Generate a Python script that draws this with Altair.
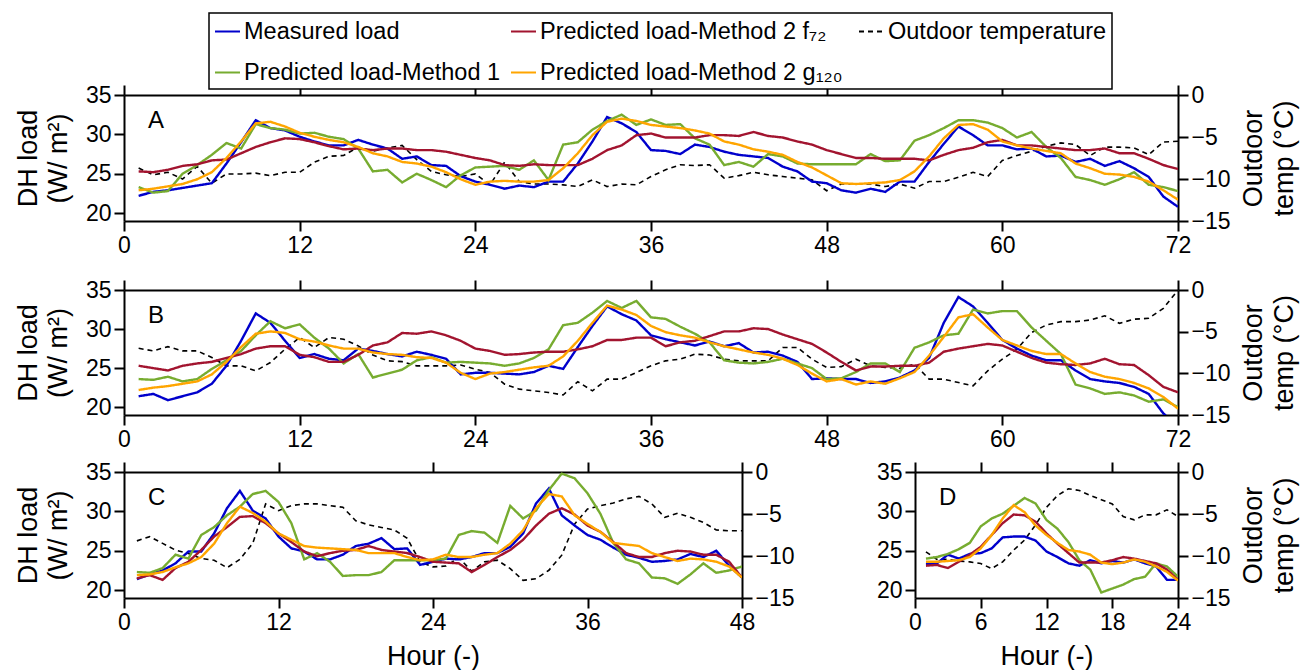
import altair as alt
import pandas as pd

FONT = "Liberation Sans"

SERIES = ["Measured load", "Predicted load-Method 2  f₇₂", "Outdoor temperature",
          "Predicted load-Method 1", "Predicted load-Method 2  g₁₂₀"]
COLORS = ["#0000CC", "#A2142F", "#000000", "#77AC30", "#FFA500"]
DASHES = [[1, 0], [1, 0], [5, 4], [1, 0], [1, 0]]

# ---------------- Panel A (72 h) ----------------
A_measured = [22.2, 22.7, 22.9, 23.2, 23.5, 23.8, 26.3, 29.0, 31.8, 30.8,
              30.5, 29.7, 29.1, 28.6, 28.6, 29.3, 28.7, 28.2, 26.9, 27.2,
              26.1, 26.0, 24.7, 24.0, 23.6, 23.1, 23.5, 23.3, 24.0, 24.0,
              26.3, 29.1, 32.2, 31.4, 30.3, 28.0, 27.9, 27.5, 28.7, 28.4,
              27.8, 27.4, 27.2, 27.0, 25.9, 25.3, 24.0, 23.8, 22.9, 22.6,
              23.1, 22.7, 24.0, 24.0, 26.5, 28.8, 31.0, 29.9, 28.6, 28.6,
              28.1, 28.2, 27.2, 27.3, 26.5, 26.9, 26.0, 26.6, 25.7, 24.6,
              22.1, 20.8]
A_method1 = [23.3, 22.6, 22.8, 25.0, 26.1, 27.4, 28.9, 28.2, 31.3, 30.8,
             30.6, 30.1, 30.2, 29.7, 29.4, 28.2, 25.3, 25.5, 23.9, 25.0,
             24.2, 23.3, 24.8, 25.8, 25.9, 26.0, 25.5, 26.7, 24.2, 28.7,
             29.0, 30.6, 31.7, 32.5, 31.2, 31.9, 31.2, 31.3, 29.5, 28.7,
             26.1, 26.5, 25.9, 27.5, 27.2, 26.3, 26.2, 26.2, 26.2, 26.2,
             27.5, 26.6, 26.7, 29.2, 29.9, 30.8, 31.8, 31.8, 31.5, 30.8,
             29.6, 30.3, 28.4, 27.0, 24.6, 24.2, 23.6, 24.3, 25.2, 23.6,
             23.3, 22.8]
A_f72 = [25.3, 25.2, 25.5, 26.0, 26.2, 26.7, 26.8, 27.6, 28.4, 29.0,
         29.5, 29.4, 29.0, 28.5, 28.1, 28.2, 28.0, 28.2, 28.2, 28.0,
         28.0, 27.8, 27.4, 27.0, 26.7, 26.1, 26.0, 26.2, 26.1, 26.1,
         26.1, 26.9, 28.0, 28.6, 29.9, 30.1, 29.6, 29.6, 29.6, 29.9,
         29.9, 29.8, 30.3, 29.8, 29.6, 29.1, 28.7, 28.0, 27.5, 27.0,
         27.0, 26.9, 26.9, 26.9, 26.7, 27.4, 28.0, 28.3, 29.0, 29.3,
         28.6, 28.6, 28.4, 28.2, 28.0, 28.0, 28.2, 27.6, 27.6, 26.9,
         26.1, 25.6]
A_g120 = [22.9, 23.1, 23.4, 23.7, 24.3, 25.2, 27.0, 29.1, 31.4, 31.6,
          31.0, 30.2, 29.7, 29.3, 29.0, 28.4, 27.6, 27.2, 26.5, 26.3,
          25.9, 25.2, 24.3, 23.6, 24.0, 24.1, 24.0, 24.0, 24.2, 25.7,
          27.6, 29.9, 31.6, 32.0, 31.7, 31.2, 31.0, 30.8, 30.5, 30.1,
          29.1, 28.7, 28.1, 27.8, 27.4, 26.5, 25.8, 24.8, 23.8, 23.7,
          23.8, 23.9, 24.2, 25.3, 27.2, 29.5, 31.2, 31.3, 30.6, 29.1,
          28.6, 28.2, 27.9, 27.6, 26.3, 25.7, 25.0, 24.9, 24.6, 24.0,
          22.9, 21.7]
A_temp = [-8.7, -9.5, -9.2, -10.0, -8.5, -10.5, -9.4, -9.4, -9.3, -9.6,
          -9.2, -9.2, -8.0, -7.3, -7.2, -6.2, -6.7, -6.3, -6.0, -7.7,
          -9.1, -9.5, -9.7, -9.4, -10.7, -8.0, -10.3, -10.6, -10.6, -10.7,
          -10.9, -10.1, -10.9, -10.6, -10.7, -9.7, -8.9, -8.3, -8.4, -8.3,
          -9.9, -9.6, -9.2, -9.5, -9.7, -9.9, -10.1, -11.4, -10.6, -10.6,
          -10.6, -10.9, -10.6, -11.1, -10.3, -10.3, -9.8, -9.2, -9.7, -7.8,
          -7.2, -6.7, -6.1, -5.7, -5.9, -7.2, -6.2, -6.2, -6.3, -7.1,
          -5.6, -5.5]

# ---------------- Panel B (72 h) ----------------
B_measured = [21.4, 21.7, 20.9, 21.4, 21.9, 23.0, 25.3, 28.5, 32.0, 30.8,
              28.5, 26.3, 26.8, 26.2, 26.0, 27.5, 27.2, 26.8, 26.5, 27.1,
              26.7, 26.2, 24.2, 24.4, 24.4, 24.3, 24.2, 24.5, 25.3, 24.9,
              27.7, 30.4, 32.9, 31.9, 31.1, 29.2, 28.7, 28.3, 27.9, 28.4,
              27.8, 28.2, 27.0, 27.1, 26.6, 25.8, 23.6, 23.7, 23.6, 23.6,
              23.1, 23.3, 23.8, 24.7, 26.3, 30.8, 34.1, 32.9, 30.8, 28.6,
              27.5, 26.6, 26.0, 26.0, 24.7, 23.6, 23.3, 23.1, 22.6, 21.7,
              19.2, 17.5]
B_method1 = [23.6, 23.5, 23.9, 23.3, 23.6, 24.9, 26.0, 27.2, 29.2, 31.0,
             30.1, 30.6, 28.9, 27.5, 25.6, 26.8, 23.8, 24.3, 24.8, 26.0,
             26.4, 25.7, 25.8, 25.7, 25.6, 25.3, 25.6, 26.3, 27.4, 30.5,
             30.8, 32.1, 33.6, 32.7, 33.6, 31.5, 31.3, 30.3, 29.4, 28.3,
             26.0, 25.7, 25.6, 25.8, 26.2, 25.6, 25.0, 23.6, 23.7, 24.5,
             25.6, 25.6, 24.5, 27.6, 28.3, 29.2, 29.4, 32.5, 32.0, 32.3,
             32.3, 30.2, 28.5, 26.8, 22.9, 22.4, 21.7, 21.9, 21.5, 20.7,
             21.0, 20.0]
B_f72 = [25.3, 25.0, 24.7, 25.3, 25.6, 25.8, 26.3, 26.8, 27.5, 27.8,
         27.8, 26.7, 26.4, 25.8, 25.8, 26.7, 27.9, 28.3, 29.5, 29.4,
         29.7, 29.2, 28.5, 27.5, 27.2, 26.7, 26.8, 27.0, 27.1, 27.1,
         27.4, 27.8, 28.6, 28.6, 28.9, 28.9, 27.8, 28.3, 28.5, 29.1,
         29.7, 29.7, 30.1, 30.0, 29.3, 28.7, 28.1, 27.0, 25.8, 24.7,
         25.2, 25.2, 25.3, 25.3, 25.7, 27.1, 27.5, 27.8, 28.1, 27.9,
         27.1, 26.3, 25.7, 25.5, 25.4, 25.6, 26.2, 25.5, 25.4, 24.1,
         22.6, 21.9]
B_g120 = [22.2, 22.5, 22.7, 23.0, 23.3, 24.2, 25.8, 27.7, 29.4, 29.7,
          29.5, 28.7, 28.4, 27.9, 27.5, 27.5, 27.0, 26.8, 26.7, 26.4,
          26.3, 25.7, 24.4, 23.6, 24.3, 24.5, 24.8, 25.1, 25.3, 26.5,
          28.5, 30.8, 33.0, 32.5, 31.8, 30.4, 29.6, 29.2, 28.9, 28.3,
          27.8, 27.4, 27.0, 26.7, 26.2, 25.4, 24.3, 23.3, 23.6, 22.9,
          23.3, 23.0, 23.7, 24.5, 26.6, 29.0, 31.5, 31.9, 30.2, 28.6,
          27.9, 27.2, 26.8, 26.8, 25.6, 24.5, 23.9, 23.6, 23.1, 22.4,
          21.3, 19.8]
B_temp = [-7.0, -7.3, -6.8, -7.3, -7.3, -8.1, -9.1, -9.1, -9.7, -8.7,
          -7.1, -5.7, -6.9, -5.7, -5.9, -6.7, -7.8, -8.5, -8.6, -9.1,
          -9.1, -9.1, -9.0, -9.5, -9.9, -11.3, -11.9, -12.1, -12.3, -12.6,
          -11.0, -12.1, -10.7, -10.7, -9.9, -9.1, -8.5, -8.3, -7.7, -7.8,
          -8.3, -8.5, -8.5, -8.5, -6.9, -6.9, -8.3, -9.3, -9.2, -8.3,
          -9.1, -9.3, -9.4, -8.9, -10.7, -10.7, -11.1, -11.5, -9.7, -8.3,
          -7.1, -5.1, -4.2, -3.8, -3.8, -3.6, -3.1, -4.0, -3.5, -3.4,
          -2.2, 0.0]

# ---------------- Panel C (48 h) ----------------
C_measured = [21.4, 22.0, 22.5, 23.4, 24.9, 24.9, 27.2, 30.4, 32.6, 30.1,
              29.1, 26.8, 25.3, 24.9, 23.9, 23.9, 24.5, 25.6, 25.9, 26.6,
              25.2, 25.3, 23.2, 23.6, 24.0, 23.9, 24.2, 24.7, 24.7, 25.5,
              27.2, 31.0, 32.9, 29.5, 28.2, 27.0, 26.4, 25.4, 24.5, 24.1,
              23.6, 23.7, 23.9, 24.6, 24.2, 25.0, 23.1, 21.6]
C_method1 = [22.3, 22.2, 22.8, 24.5, 24.0, 27.0, 28.0, 29.5, 30.6, 32.2,
             32.6, 31.2, 28.5, 23.9, 24.7, 23.6, 21.8, 21.9, 21.9, 22.3,
             23.8, 23.8, 23.8, 23.8, 24.0, 27.0, 27.5, 27.3, 26.0, 30.7,
             29.1, 30.1, 32.7, 34.8, 34.2, 32.3, 29.7, 26.0, 23.9, 23.4,
             21.6, 21.5, 20.8, 22.0, 23.4, 22.2, 22.5, 23.0]
C_f72 = [21.5, 21.9, 21.3, 22.8, 23.6, 25.1, 26.8, 28.0, 29.3, 29.4,
         28.5, 27.2, 26.1, 24.9, 24.3, 24.7, 25.0, 25.1, 25.6, 25.1,
         24.9, 24.7, 24.2, 23.6, 23.5, 23.4, 22.3, 23.2, 24.2, 25.1,
         26.4, 28.2, 29.7, 30.4, 29.6, 28.2, 27.4, 26.1, 24.7, 24.2,
         24.2, 24.7, 25.0, 24.9, 24.5, 24.5, 23.6, 21.6]
C_g120 = [21.9, 22.0, 22.3, 22.9, 23.4, 24.2, 25.9, 28.5, 30.6, 29.8,
          28.7, 27.2, 26.4, 25.6, 25.4, 25.3, 25.2, 25.1, 24.7, 24.7,
          24.7, 24.2, 23.8, 23.9, 24.5, 24.2, 24.2, 24.5, 24.7, 25.9,
          27.6, 30.4, 32.2, 31.9, 29.5, 28.4, 27.4, 26.0, 25.8, 25.6,
          24.7, 24.2, 23.7, 24.0, 23.9, 23.6, 23.0, 21.6]
C_temp = [-8.2, -7.7, -8.5, -9.3, -9.7, -10.3, -10.5, -11.4, -10.4, -8.5,
          -3.8, -4.6, -4.0, -3.8, -3.8, -4.0, -4.2, -5.8, -6.3, -6.6,
          -6.9, -7.9, -10.7, -11.3, -11.2, -10.2, -11.8, -10.7, -10.5, -11.5,
          -12.9, -12.7, -11.7, -9.9, -6.2, -4.4, -4.0, -3.7, -3.2, -2.9,
          -3.8, -5.4, -4.9, -5.4, -6.0, -6.9, -7.0, -7.0]

# ---------------- Panel D (24 h) ----------------
D_measured = [23.3, 23.4, 24.5, 24.0, 24.6, 24.7, 25.3, 26.7, 26.8, 26.8,
              26.3, 24.9, 24.2, 23.4, 23.1, 23.8, 23.4, 23.7, 23.5, 23.9,
              23.4, 23.0, 21.3, 21.3]
D_method1 = [24.0, 24.2, 24.6, 25.2, 26.0, 28.1, 29.1, 29.7, 30.7, 31.7,
             31.0, 28.9, 27.8, 26.1, 23.8, 22.6, 19.7, 20.2, 20.7, 21.4,
             21.7, 23.4, 23.0, 21.7]
D_f72 = [23.1, 23.2, 22.8, 23.6, 24.5, 25.5, 27.0, 28.5, 29.6, 29.5,
         28.7, 27.2, 25.9, 24.7, 23.5, 23.5, 23.5, 23.8, 24.2, 24.0,
         23.7, 23.4, 22.6, 21.3]
D_g120 = [23.6, 23.6, 23.7, 23.8, 24.2, 25.3, 27.0, 29.1, 30.8, 29.9,
          28.2, 27.0, 26.0, 25.1, 24.9, 24.5, 23.5, 23.3, 23.5, 23.9,
          23.6, 23.0, 22.3, 21.2]
D_temp = [-9.5, -10.4, -10.4, -10.6, -10.7, -10.9, -11.5, -10.7, -9.3, -8.1,
          -6.3, -4.2, -2.8, -2.0, -2.2, -2.8, -3.3, -3.8, -5.3, -5.7,
          -5.1, -5.1, -4.5, -5.3]

LOAD_TICKS = [20, 25, 30, 35]
TEMP_TICKS = [-15, -10, -5, 0]
LEFT_TITLE = ["DH load", "(W/ m²)"]
RIGHT_TITLE = ["Outdoor", "temp (°C)"]

color_scale = alt.Scale(domain=SERIES, range=COLORS)
dash_scale = alt.Scale(domain=SERIES, range=DASHES)


def panel(letter, xmax, xticks, measured, method1, f72, g120, temp,
          width, height, left_title, right_title, x_title):
    hours = list(range(1, len(temp) + 1))
    rows = []
    for name, vals in [(SERIES[0], measured), (SERIES[3], method1),
                       (SERIES[1], f72), (SERIES[4], g120)]:
        for h, v in zip(hours, vals):
            rows.append({"hour": h, "value": v, "series": name})
    load_df = pd.DataFrame(rows)
    temp_df = pd.DataFrame({"hour": hours, "temp": temp, "series": SERIES[2]})

    xs = alt.Scale(domain=[0, xmax], nice=False, zero=False)

    temp_axis = dict(orient="right", values=TEMP_TICKS)
    if right_title:
        temp_axis.update(title=right_title, titleAngle=270, titleBaseline="top",
                         titleAlign="center", titleX=62, titleY=height / 2,
                         titleLineHeight=31)
    else:
        temp_axis.update(title=None)

    load_axis = dict(orient="left", values=LOAD_TICKS)
    if left_title:
        load_axis.update(title=left_title, titleAngle=270, titleBaseline="bottom",
                         titleAlign="center", titleX=-82, titleY=height / 2,
                         titleLineHeight=30)
    else:
        load_axis.update(title=None)

    bottom_axis = dict(orient="bottom", values=xticks)
    if x_title:
        bottom_axis.update(title=x_title, titlePadding=9)
    else:
        bottom_axis.update(title=None)

    temp_layer = alt.Chart(temp_df).mark_line(strokeWidth=1.6, clip=True).encode(
        x=alt.X("hour:Q", scale=xs,
                axis=alt.Axis(orient="top", values=xticks, labels=False, title=None)),
        y=alt.Y("temp:Q", scale=alt.Scale(domain=[-15, 0], nice=False),
                axis=alt.Axis(**temp_axis)),
        color=alt.Color("series:N", scale=color_scale, title=None),
        strokeDash=alt.StrokeDash("series:N", scale=dash_scale, title=None),
    )
    load_layer = alt.Chart(load_df).mark_line(strokeWidth=2.4, clip=True).encode(
        x=alt.X("hour:Q", scale=xs, axis=alt.Axis(**bottom_axis)),
        y=alt.Y("value:Q", scale=alt.Scale(domain=[19, 35], nice=False, zero=False),
                axis=alt.Axis(**load_axis)),
        color=alt.Color("series:N", scale=color_scale, title=None),
        strokeDash=alt.StrokeDash("series:N", scale=dash_scale, title=None),
    )
    letter_layer = alt.Chart(pd.DataFrame({"t": [letter]})).mark_text(
        font=FONT, fontSize=24, align="left", baseline="middle", color="black"
    ).encode(text="t:N", x=alt.value(24), y=alt.value(26))

    return (alt.layer(temp_layer, load_layer, letter_layer)
            .resolve_scale(y="independent")
            .resolve_axis(x="independent", y="independent")
            .properties(width=width, height=height))


pA = panel("A", 72, list(range(0, 73, 12)), A_measured, A_method1, A_f72, A_g120, A_temp,
           1054, 126, LEFT_TITLE, RIGHT_TITLE, None)
pB = panel("B", 72, list(range(0, 73, 12)), B_measured, B_method1, B_f72, B_g120, B_temp,
           1054, 125, LEFT_TITLE, RIGHT_TITLE, None)
pC = panel("C", 48, list(range(0, 49, 12)), C_measured, C_method1, C_f72, C_g120, C_temp,
           618, 126, LEFT_TITLE, None, "Hour (-)")
pD = panel("D", 24, list(range(0, 25, 6)), D_measured, D_method1, D_f72, D_g120, D_temp,
           263, 126, None, RIGHT_TITLE, "Hour (-)")

bottom = alt.hconcat(pC, pD, spacing=80).resolve_scale(color="shared", strokeDash="shared")
middle = alt.vconcat(pB, bottom, spacing=8).resolve_scale(color="shared", strokeDash="shared")
chart = (alt.vconcat(pA, middle, spacing=20)
         .resolve_scale(color="shared", strokeDash="shared")
         .properties(padding={"left": 13, "top": 12, "right": 4, "bottom": 0},
                     background="white")
         .configure_view(stroke="transparent")
         .configure_axis(domainColor="black", domainWidth=2, tickColor="black",
                         tickWidth=2, tickSize=10, labelFontSize=23, labelFont=FONT,
                         labelColor="black", titleFont=FONT, titleFontSize=27,
                         titleFontWeight="normal", titleColor="black", grid=False,
                         labelPadding=3, labelFlush=False, labelOverlap=False)
         .configure_legend(orient="none", legendX=85, legendY=-82, columns=3,
                           direction="horizontal",
                           symbolType="stroke", symbolSize=625, symbolStrokeWidth=2,
                           labelFont=FONT, labelFontSize=23.5, labelColor="black",
                           labelLimit=500, fillColor="white", strokeColor="black",
                           strokeWidth=1.5, padding=5, rowPadding=16, columnPadding=6,
                           gridAlign="each", labelOffset=3))

chart.save("out.html", embed_options={"renderer": "svg", "actions": False})
